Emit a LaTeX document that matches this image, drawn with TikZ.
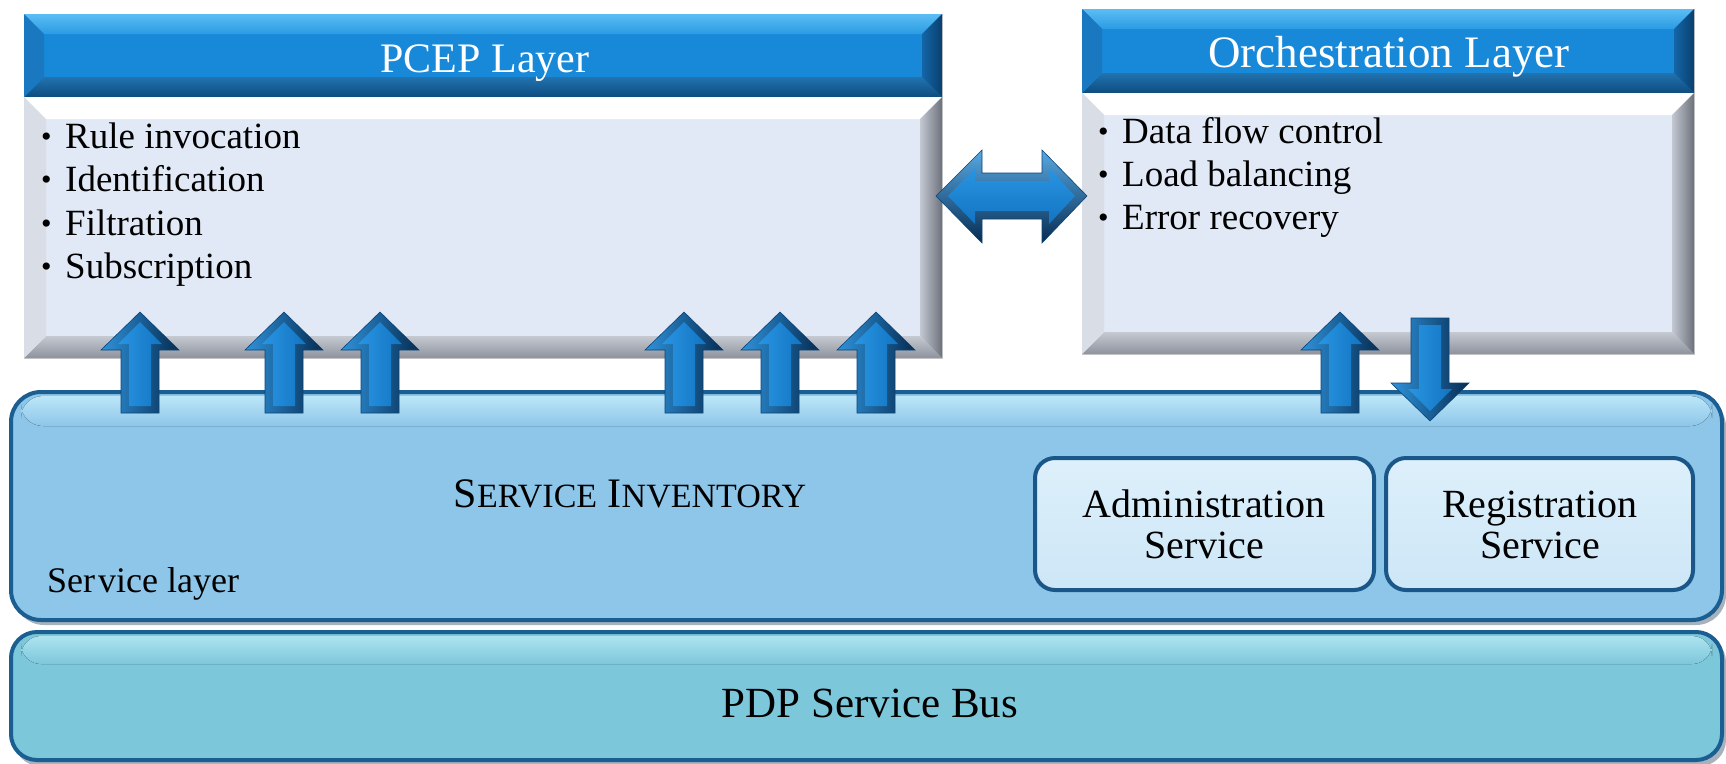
\documentclass[tikz,border=0pt]{standalone}
\usepackage{fontspec}
\setmainfont{Liberation Serif}
\usetikzlibrary{calc}

% palette
\definecolor{hdrBase}{HTML}{1889D9}
\definecolor{hdrTopA}{HTML}{5CBDF4}
\definecolor{hdrTopB}{HTML}{2A9BE3}
\definecolor{hdrLeft}{HTML}{1A78C0}
\definecolor{hdrRightA}{HTML}{1466A8}
\definecolor{hdrRightB}{HTML}{093F6E}
\definecolor{hdrBotA}{HTML}{2273B0}
\definecolor{hdrBotB}{HTML}{0D4C7E}
\definecolor{bodyBase}{HTML}{E2E9F6}
\definecolor{bodyTop}{HTML}{FFFFFF}
\definecolor{bodyLeft}{HTML}{D9DDE6}
\definecolor{bodyRightA}{HTML}{C4C8D1}
\definecolor{bodyRightB}{HTML}{6C717C}
\definecolor{bodyBotA}{HTML}{C5C9D2}
\definecolor{bodyBotB}{HTML}{8D929C}
\definecolor{layBorder}{HTML}{1B5E92}
\definecolor{svcFill}{HTML}{8DC6E9}
\definecolor{svcGloss}{HTML}{BCE6F8}
\definecolor{busFill}{HTML}{7DC7DB}
\definecolor{busGloss}{HTML}{ADE3EF}
\definecolor{subFill}{HTML}{CDE6F7}
\definecolor{subGloss}{HTML}{DDF0FB}
\definecolor{subBorder}{HTML}{1A5788}
\definecolor{arrL}{HTML}{2F93DB}
\definecolor{arrM}{HTML}{1A84D2}
\definecolor{arrR}{HTML}{062C52}
\definecolor{arrFL}{HTML}{2A95E2}
\definecolor{arrFR}{HTML}{1274C2}
\definecolor{arrEdge}{HTML}{0B4478}
\definecolor{shadowGray}{HTML}{A7B2BC}

% beveled panel drawn over a rectangular node:
% #1 node, #2 bevel size, #3 top facet, #4 left facet, #5 right facet, #6 bottom facet
\newcommand\bevelpanel[6]{%
  \path[#3] (#1.north west) -- (#1.north east) -- ($(#1.north east)+(-#2,#2)$)
        -- ($(#1.north west)+(#2,#2)$) -- cycle;
  \path[#6] (#1.south west) -- (#1.south east) -- ($(#1.south east)+(-#2,-#2)$)
        -- ($(#1.south west)+(#2,-#2)$) -- cycle;
  \path[#4] (#1.north west) -- ($(#1.north west)+(#2,#2)$)
        -- ($(#1.south west)+(#2,-#2)$) -- (#1.south west) -- cycle;
  \path[#5] (#1.north east) -- ($(#1.north east)+(-#2,#2)$)
        -- ($(#1.south east)+(-#2,-#2)$) -- (#1.south east) -- cycle;
}
\newcommand\bul{\makebox[24pt][l]{\raisebox{2pt}{\fontsize{30}{30}\selectfont\textbullet}}}

\tikzset{
  panel/.style={anchor=north west, inner sep=0pt, outer sep=0pt},
  hdrpanel/.style={panel, fill=hdrBase, draw=gray!40, line width=0.8pt},
  bodypanel/.style={panel, fill=bodyBase, draw=gray!40, line width=0.8pt},
  hdrtext/.style={anchor=base, inner sep=0pt, text=white},
  bodytext/.style={anchor=base west, inner sep=0pt, text=black,
    font=\fontsize{37}{42}\selectfont},
  plaintext/.style={anchor=base, inner sep=0pt, text=black},
  laybox/.style={draw=layBorder, line width=4pt, rounded corners=30pt},
  subbox/.style={draw=subBorder, line width=4pt, rounded corners=20pt,
    top color=subGloss, bottom color=subFill},
  arrowbody/.style={left color=arrL, middle color=arrM, right color=arrR,
    draw=arrEdge, line width=0.6pt},
  arrowface/.style={left color=arrFL, right color=arrFR},
  uparrow/.pic={
    \path[arrowbody] (-19,101) -- (-19,38) -- (-39,38) -- (0,0) -- (39,38)
      -- (19,38) -- (19,101) -- cycle;
    \path[arrowface] (-11,94) -- (-11,32) -- (-22,32) -- (0,10) -- (22,32)
      -- (11,32) -- (11,94) -- cycle;
  },
  downarrow/.pic={
    \path[arrowbody] (-19,-103) -- (-19,-38) -- (-39,-38) -- (0,0) -- (39,-38)
      -- (19,-38) -- (19,-103) -- cycle;
    \path[arrowface] (-11,-96) -- (-11,-32) -- (-22,-32) -- (0,-10) -- (22,-32)
      -- (11,-32) -- (11,-96) -- cycle;
  },
}

\begin{document}
\begin{tikzpicture}[x=1pt,y=-1pt]
\useasboundingbox[fill=white] (0,0) rectangle (1726,763);

% ---------- PCEP layer ----------
\node[hdrpanel, minimum width=918pt, minimum height=83pt] (pcepHead) at (24,14) {};
\bevelpanel{pcepHead}{20}{top color=hdrTopA,bottom color=hdrTopB}{fill=hdrLeft}
  {left color=hdrRightA,right color=hdrRightB}{top color=hdrBotA,bottom color=hdrBotB}
\node[bodypanel, minimum width=918pt, minimum height=261pt] (pcepBody) at (24,97) {};
\bevelpanel{pcepBody}{22}{fill=bodyTop}{fill=bodyLeft}
  {left color=bodyRightA,right color=bodyRightB}{top color=bodyBotA,bottom color=bodyBotB}
\node[hdrtext, font=\fontsize{42}{48}\selectfont] (pcepTitle) at (485,72) {PCEP Layer};
\node[bodytext] (pcepA) at (41,148) {\bul Rule invocation};
\node[bodytext] (pcepB) at (41,191.5) {\bul Identification};
\node[bodytext] (pcepC) at (41,235) {\bul Filtration};
\node[bodytext] (pcepD) at (41,278) {\bul Subscription};

% ---------- Orchestration layer ----------
\node[hdrpanel, minimum width=612pt, minimum height=84pt] (orchHead) at (1082,9) {};
\bevelpanel{orchHead}{20}{top color=hdrTopA,bottom color=hdrTopB}{fill=hdrLeft}
  {left color=hdrRightA,right color=hdrRightB}{top color=hdrBotA,bottom color=hdrBotB}
\node[bodypanel, minimum width=612pt, minimum height=261pt] (orchBody) at (1082,93) {};
\bevelpanel{orchBody}{22}{fill=bodyTop}{fill=bodyLeft}
  {left color=bodyRightA,right color=bodyRightB}{top color=bodyBotA,bottom color=bodyBotB}
\node[hdrtext, font=\fontsize{45}{50}\selectfont] (orchTitle) at (1389,67) {Orchestration Layer};
\node[bodytext] (orchA) at (1098,143) {\bul Data flow control};
\node[bodytext] (orchB) at (1098,186) {\bul Load balancing};
\node[bodytext] (orchC) at (1098,229) {\bul Error recovery};

% ---------- service layer ----------
\fill[shadowGray, rounded corners=30pt] (14,397) rectangle (1726,625);
\node[panel, minimum width=1711pt, minimum height=228pt] (svcLayer) at (11,392) {};
\fill[svcFill, rounded corners=30pt] (svcLayer.north west) rectangle (svcLayer.south east);
\fill[top color=svcGloss, bottom color=svcFill, rounded corners=22pt]
  ($(svcLayer.north west)+(10,4)$) rectangle ($(svcLayer.north east)+(-10,34)$);
\draw[laybox] (svcLayer.north west) rectangle (svcLayer.south east);
\node[plaintext] (svcInv) at (630,507)
  {{\fontsize{42}{44}\selectfont S}{\fontsize{34}{44}\selectfont ERVICE}%
   {\fontsize{42}{44}\selectfont\ I}{\fontsize{34}{44}\selectfont NVENTORY}};
\node[plaintext, anchor=base west, font=\fontsize{36}{40}\selectfont] (svcName) at (47,592)
  {Ser\hspace{3pt}vice layer};

\node[panel, minimum width=339pt, minimum height=132pt] (admin) at (1035,458) {};
\draw[subbox] (admin.north west) rectangle (admin.south east);
\node[plaintext, font=\fontsize{40}{41}\selectfont] (adminA) at (1204,517) {Administration};
\node[plaintext, font=\fontsize{40}{41}\selectfont] (adminB) at (1204,558) {Service};

\node[panel, minimum width=307pt, minimum height=132pt] (reg) at (1386,458) {};
\draw[subbox] (reg.north west) rectangle (reg.south east);
\node[plaintext, font=\fontsize{40}{41}\selectfont] (regA) at (1540,517) {Registration};
\node[plaintext, font=\fontsize{40}{41}\selectfont] (regB) at (1540,558) {Service};

% ---------- service bus ----------
\fill[shadowGray, rounded corners=26pt] (14,636) rectangle (1726,766);
\node[panel, minimum width=1711pt, minimum height=128pt] (bus) at (11,632) {};
\fill[busFill, rounded corners=26pt] (bus.north west) rectangle (bus.south east);
\fill[top color=busGloss, bottom color=busFill, rounded corners=20pt]
  ($(bus.north west)+(10,4)$) rectangle ($(bus.north east)+(-10,32)$);
\draw[laybox, rounded corners=26pt] (bus.north west) rectangle (bus.south east);
\node[plaintext, font=\fontsize{43}{46}\selectfont] (busName) at (870,717) {PDP Service Bus};

% ---------- arrows ----------
\foreach \cx in {140,284,380,684,780,876}
  \pic at (\cx,312) {uparrow};
\pic at (1340,312) {uparrow};
\pic at (1430,421) {downarrow};

\path[top color=arrL!80!white, middle color=arrM, bottom color=arrR, draw=arrEdge, line width=0.6pt]
  (936,196) -- (982,150) -- (982,173) -- (1042,173) -- (1042,150) -- (1087,196)
  -- (1042,243) -- (1042,219) -- (982,219) -- (982,243) -- cycle;
\path[top color=arrFL, bottom color=arrFR]
  (948,196) -- (975,168) -- (975,181) -- (1049,181) -- (1049,168) -- (1075,196)
  -- (1049,224) -- (1049,211) -- (975,211) -- (975,224) -- cycle;
\end{tikzpicture}
\end{document}
